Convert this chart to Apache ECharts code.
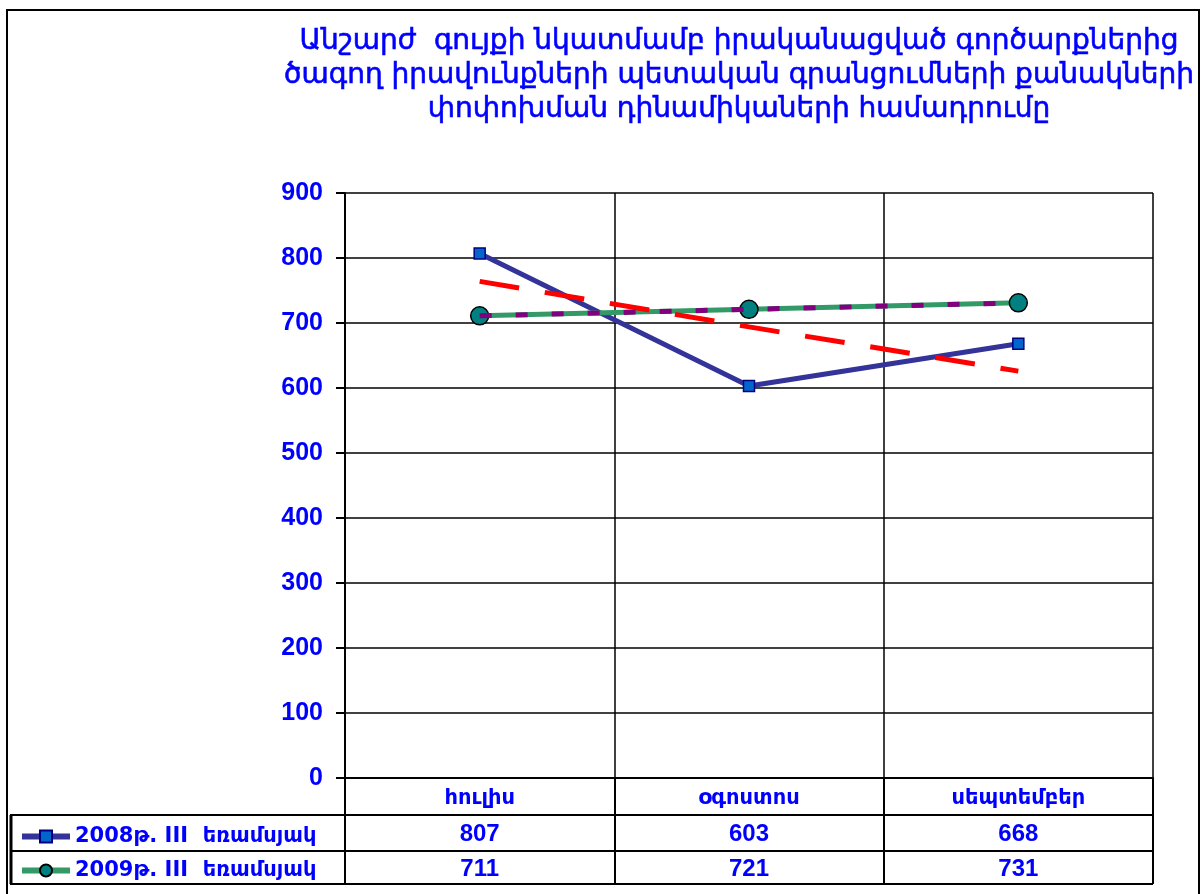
<!DOCTYPE html>
<html>
<head>
<meta charset="utf-8">
<style>
  html, body { margin: 0; padding: 0; background: #fff; }
  #chart-panel { width: 1202px; height: 894px; }
</style>
<script src="https://cdn.jsdelivr.net/npm/echarts@6/dist/echarts.min.js"></script>
</head>
<body>
<div id="chart-panel"></div>
<script type="text/javascript">
// data
var months = ['հուլիս', 'օգոստոս', 'սեպտեմբեր'];
var names = ['2008թ. III  եռամսյակ', '2009թ. III  եռամսյակ'];
var q2008 = [807, 603, 668];
var q2009 = [711, 721, 731];
var trend2008 = [764, 694, 626];
var trend2009 = [711, 721, 731];
var yTicks = [0, 900, 100];

var blue = '#0000FF';
var numFont = 'Liberation Sans';
var armFont = 'DejaVu Sans';

var myChart = echarts.init(document.getElementById('chart-panel'));

// plot box (px)
var gl = 345, gt = 193, gr = 1153, gb = 778;
var rowA = 815, rowB = 851, rowC = 884;

function tableLine(x1, y1, x2, y2, w) {
    return { type: 'line', shape: { x1: x1, y1: y1, x2: x2, y2: y2 },
             style: { stroke: '#000', lineWidth: w || 2 }, silent: true };
}

var option = {
    backgroundColor: '#fff',
    animation: false,
    title: {
        text: 'Անշարժ  գույքի նկատմամբ իրականացված գործարքներից\nծագող իրավունքների պետական գրանցումների քանակների\nփոփոխման դինամիկաների համադրումը',
        left: 734, top: 20, textAlign: 'center',
        textStyle: { fontFamily: armFont, fontSize: 28, fontWeight: 'normal', color: blue, lineHeight: 34,
                     textBorderColor: blue, textBorderWidth: 0.6 }
    },
    legend: {
        data: names,
        orient: 'vertical',
        left: 14, top: 821,
        itemWidth: 48, itemHeight: 15, itemGap: 13,
        selectedMode: false,
        lineStyle: { width: 6 },
        textStyle: { fontFamily: armFont, fontSize: 21, fontWeight: 'bold', color: blue }
    },
    grid: { left: gl, top: gt, width: gr - gl, height: gb - gt, containLabel: false },
    xAxis: [
        {
            type: 'category', data: months, boundaryGap: true,
            axisLine: { show: true, lineStyle: { color: '#000', width: 2 } },
            axisTick: { show: true, length: rowC - gb, lineStyle: { color: '#000', width: 2 } },
            splitLine: { show: true, lineStyle: { color: '#000', width: 1.5 } },
            axisLabel: { margin: 10, fontFamily: armFont, fontSize: 21, fontWeight: 'bold', color: blue }
        },
        {
            type: 'category', data: q2008.map(String), position: 'bottom', offset: 0,
            axisLine: { show: false }, axisTick: { show: false }, splitLine: { show: false },
            axisLabel: { margin: 44, fontFamily: numFont, fontSize: 24, fontWeight: 'bold', color: blue }
        },
        {
            type: 'category', data: q2009.map(String), position: 'bottom', offset: 0,
            axisLine: { show: false }, axisTick: { show: false }, splitLine: { show: false },
            axisLabel: { margin: 79, fontFamily: numFont, fontSize: 24, fontWeight: 'bold', color: blue }
        }
    ],
    yAxis: {
        type: 'value', min: yTicks[0], max: yTicks[1], interval: yTicks[2],
        axisLine: { show: true, lineStyle: { color: '#000', width: 2 } },
        axisTick: { show: true, length: 9, lineStyle: { color: '#000', width: 2 } },
        splitLine: { show: true, lineStyle: { color: '#000', width: 1.5 } },
        axisLabel: { margin: 22, fontFamily: numFont, fontSize: 25, fontWeight: 'bold', color: blue }
    },
    series: [
        {
            name: names[0], type: 'line', data: q2008,
            symbol: 'rect', symbolSize: 11,
            lineStyle: { color: '#333399', width: 5 },
            itemStyle: { color: '#0066CC', borderColor: '#000080', borderWidth: 1.5 },
            z: 2
        },
        {
            name: names[1], type: 'line', data: q2009,
            symbol: 'circle', symbolSize: 18,
            lineStyle: { color: '#339966', width: 5 },
            itemStyle: { color: '#008080', borderColor: '#000', borderWidth: 1.5 },
            z: 2
        },
        {
            name: 'trend2008', type: 'line', data: trend2008, symbol: 'none',
            lineStyle: { color: '#FF0000', width: 5, type: [40, 26] }, z: 3
        },
        {
            name: 'trend2009', type: 'line', data: trend2009, symbol: 'none',
            lineStyle: { color: '#800080', width: 5, type: [12, 24] }, z: 3
        }
    ],
    graphic: [
        { type: 'rect', shape: { x: 7, y: 10, width: 1192, height: 900 },
          style: { fill: 'none', stroke: '#000', lineWidth: 2 }, silent: true, z: -1 },
        tableLine(10, rowA, gr, rowA),
        tableLine(10, rowB, gr, rowB),
        tableLine(10, rowC, gr, rowC),
        tableLine(11, rowA, 11, rowC, 3)
    ]
};

myChart.setOption(option);
</script>
</body>
</html>
